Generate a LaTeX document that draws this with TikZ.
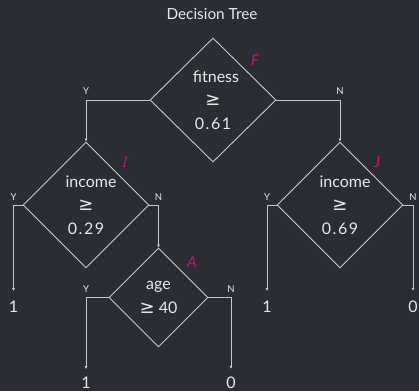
\documentclass[tikz,border=0pt]{standalone}
\usepackage{fontspec}
\setmainfont{Lato}
\newfontfamily\symfont{DejaVu Sans}
\newfontfamily\serifit{Latin Modern Roman}
\usetikzlibrary{shapes.geometric,arrows.meta}
\definecolor{bgc}{RGB}{42,45,52}
\definecolor{linec}{RGB}{200,200,200}
\definecolor{txtc}{RGB}{232,232,232}
\definecolor{magc}{RGB}{205,18,125}
\newcommand{\gesym}{{\symfont\fontsize{18}{18}\selectfont ≥}}
\newcommand{\numtxt}[1]{{\addfontfeature{LetterSpace=10}#1}}
\tikzset{
  dec/.style={diamond, draw=linec, line width=0.9pt, inner sep=0pt, text=txtc, align=center,
    font=\fontsize{16}{23.5}\selectfont},
  conn/.style={draw=linec, line width=0.9pt, -{Latex[length=3pt,width=3pt]}},
  yn/.style={text=txtc, font=\fontsize{9.5}{9.5}\selectfont, inner sep=0pt},
  leaf/.style={text=txtc, font=\fontsize{16}{16}\selectfont, inner sep=0pt},
  tag/.style={text=magc, font=\fontsize{15}{15}\selectfont\itshape, inner sep=0pt},
}
\begin{document}
\begin{tikzpicture}[x=1pt,y=-1pt]
\fill[bgc] (0,0) rectangle (419,391);
\useasboundingbox (0,0) rectangle (419,391);
\node[text=txtc, font=\fontsize{15.3}{15.3}\selectfont] (title) at (212,14) {Decision Tree};
% diamonds
\node[dec, minimum width=126pt, minimum height=124pt] (F) at (213,100) {\hspace*{6pt}fitness\\\gesym\\\numtxt{0.61}};
\node[dec, minimum width=126pt, minimum height=126pt] (I) at (86,205) {\hspace*{10pt}income\\\gesym\\\numtxt{0.29}};
\node[dec, minimum width=126pt, minimum height=126pt] (J) at (340,205) {\hspace*{10pt}income\\\gesym\\\numtxt{0.69}};
\node[dec, minimum width=99pt, minimum height=99pt] (A) at (158.5,297.5) {age\\\gesym\ 40};
% tags
\node[tag] (tF) at (255,60) {F};
\node[tag] (tI) at (124,162) {\serifit\itshape I};
\node[tag] (tJ) at (377,162) {J};
\node[tag] (tA) at (192,262) {A};
% leaves
\node[leaf] (l1) at (13.5,307) {1};
\node[leaf] (l2) at (86,383) {1};
\node[leaf] (l3) at (231,383) {0};
\node[leaf] (l4) at (267,307) {1};
\node[leaf] (l5) at (413,307) {0};
% Y/N labels
\node[yn] (y1) at (86,91) {Y};
\node[yn] (n1) at (340,91) {N};
\node[yn] (y2) at (13.5,197) {Y};
\node[yn] (n2) at (158.5,197) {N};
\node[yn] (y3) at (86,289) {Y};
\node[yn] (n3) at (231,289) {N};
\node[yn] (y4) at (267,197) {Y};
\node[yn] (n4) at (413,197) {N};
% connectors
\draw[conn] (F.west) -| (I.north);
\draw[conn] (F.east) -| (J.north);
\draw[conn, shorten >=10pt] (I.west) -| (l1.north);
\draw[conn] (I.east) -| (A.north);
\draw[conn, shorten >=8pt] (A.west) -| (l2.north);
\draw[conn, shorten >=8pt] (A.east) -| (l3.north);
\draw[conn, shorten >=10pt] (J.west) -| (l4.north);
\draw[conn, shorten >=10pt] (J.east) -| (l5.north);
\end{tikzpicture}
\end{document}
